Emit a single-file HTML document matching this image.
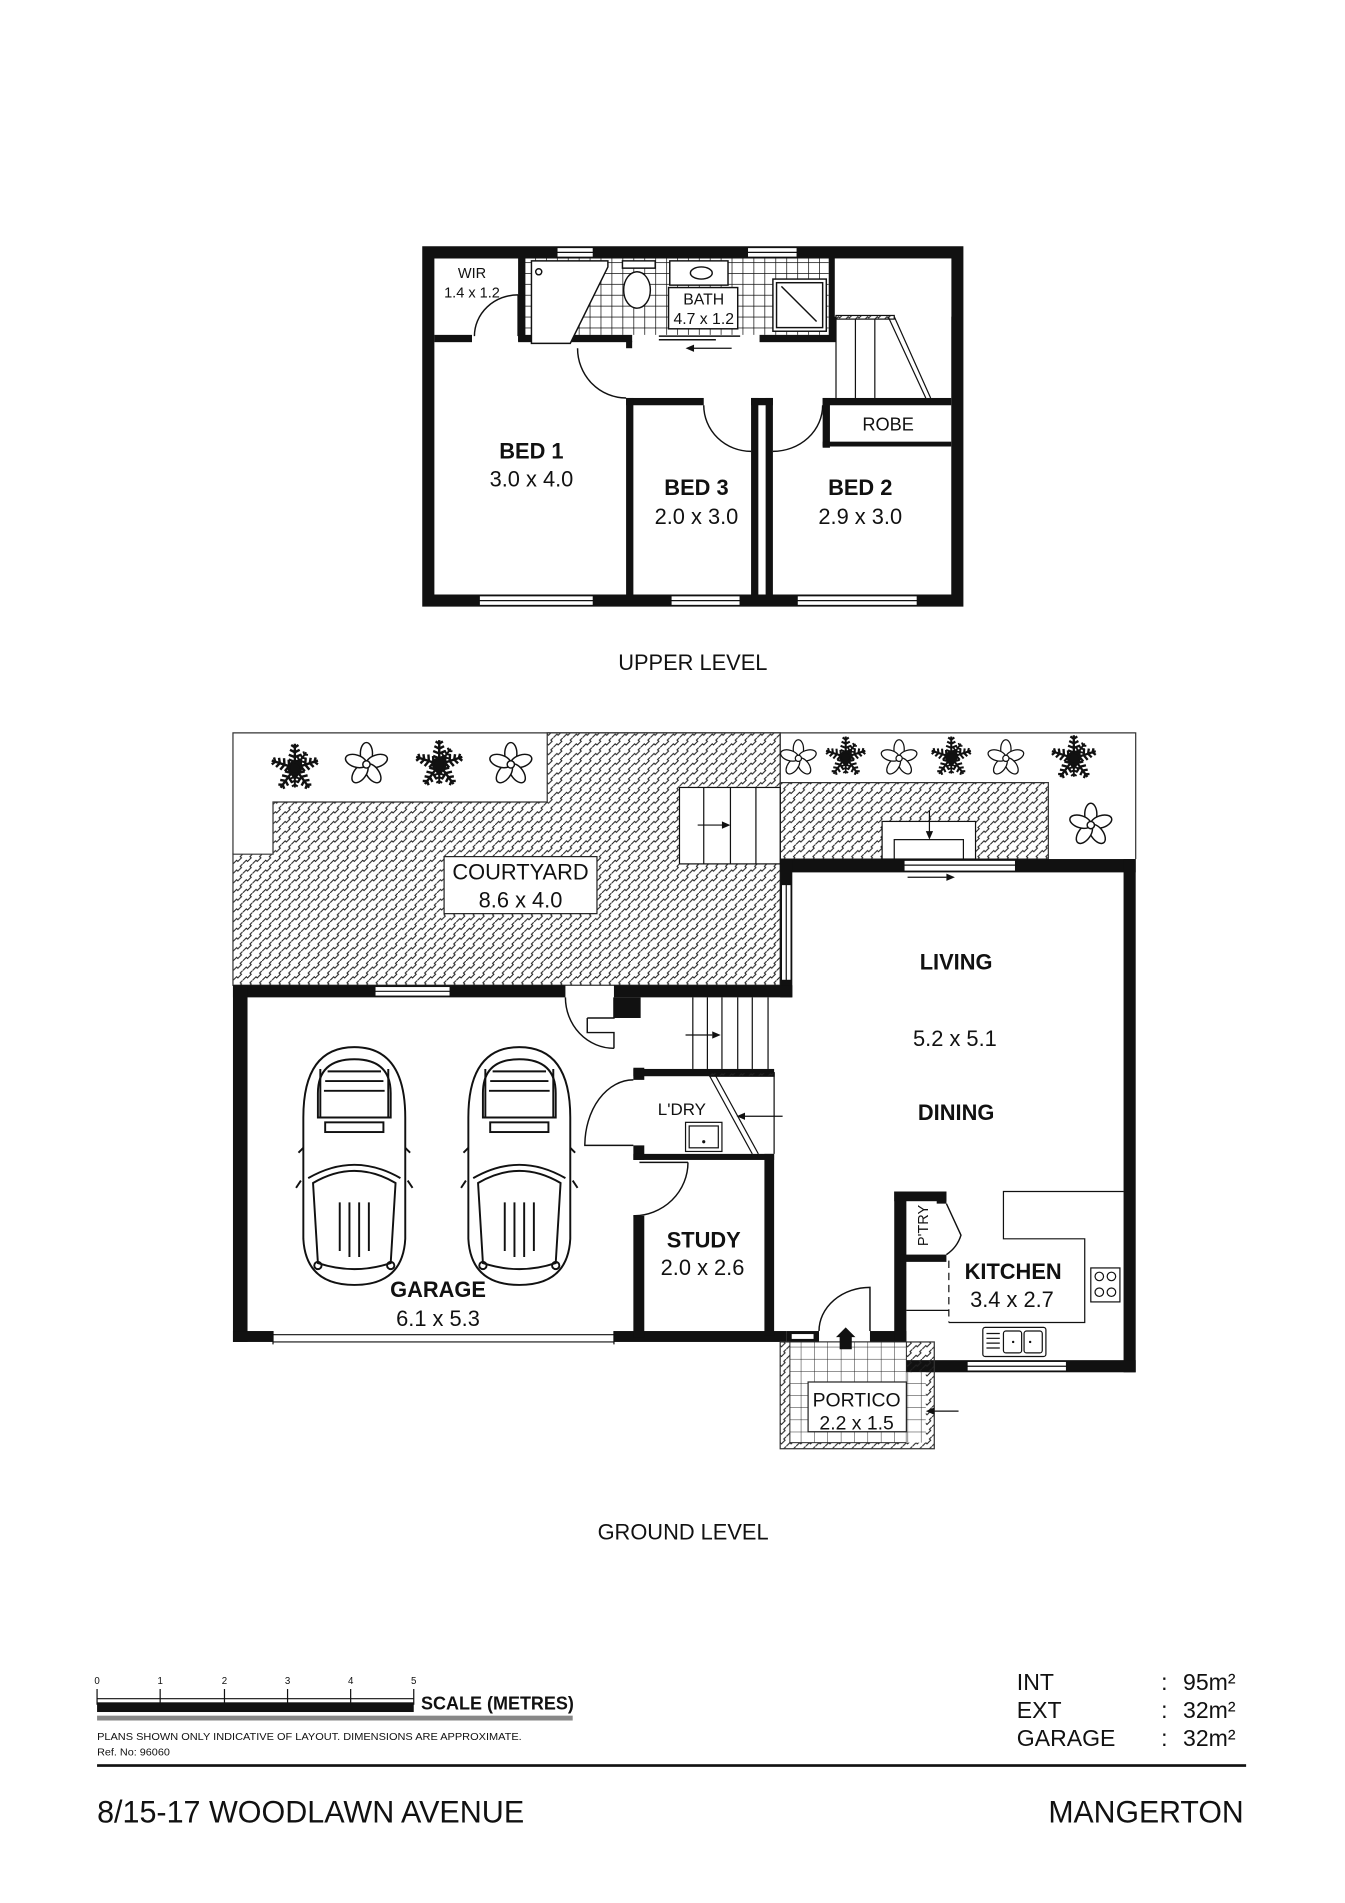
<!DOCTYPE html>
<html><head><meta charset="utf-8"><style>
html,body{margin:0;padding:0;background:#fff;}
svg{display:block;}
text{font-family:"Liberation Sans",sans-serif;fill:#111;}
</style></head><body>
<svg width="1345" height="1903" viewBox="0 0 1108.5 1568.4" preserveAspectRatio="none" xmlns="http://www.w3.org/2000/svg">
<defs>
<pattern id="hatch" width="8" height="8" patternUnits="userSpaceOnUse">
<path d="M0,8 L3,5 L4,6 L7,3 L6,2 L8,0" fill="none" stroke="#222" stroke-width="0.9"/>
</pattern>
<pattern id="tile" width="9" height="9" patternUnits="userSpaceOnUse">
<path d="M0,0 H9 M0,0 V9" stroke="#111" stroke-width="1.2"/>
</pattern>
<pattern id="btile" width="11" height="10" patternUnits="userSpaceOnUse">
<path d="M0,0 H11 M0,0 V10" stroke="#222" stroke-width="0.8"/>
</pattern>
<g id="flower">
<g fill="#fff" stroke="#111" stroke-width="1.2">
<ellipse cx="0" cy="-9" rx="5" ry="9"/>
<ellipse cx="0" cy="-9" rx="5" ry="9" transform="rotate(72)"/>
<ellipse cx="0" cy="-9" rx="5" ry="9" transform="rotate(144)"/>
<ellipse cx="0" cy="-9" rx="5" ry="9" transform="rotate(216)"/>
<ellipse cx="0" cy="-9" rx="5" ry="9" transform="rotate(288)"/>
</g>
<circle r="3" fill="#fff" stroke="#111" stroke-width="1.2"/>
</g>
<g id="fern" stroke="#111" stroke-width="2">
<g id="frond"><path d="M0,0 L0,-20 M0,-5 l-5,-2 M0,-5 l5,-2 M0,-9 l-5,-2 M0,-9 l5,-2 M0,-13 l-4,-2 M0,-13 l4,-2 M0,-17 l-3,-2 M0,-17 l3,-2"/></g>
<use href="#frond" transform="rotate(72)"/>
<use href="#frond" transform="rotate(144)"/>
<use href="#frond" transform="rotate(216)"/>
<use href="#frond" transform="rotate(288)"/>
<use href="#frond" transform="rotate(36) scale(0.8)"/>
<use href="#frond" transform="rotate(180) scale(0.8)"/>
<circle r="5" fill="#111"/>
</g>
<g id="car" fill="none" stroke="#111" stroke-width="1.6">
<path d="M-42,-40 Q-42,-98 0,-98 Q42,-98 42,-40 L42,60 Q40,98 0,98 Q-40,98 -42,60 Z"/>
<path d="M-30,-60 Q-30,-88 0,-88 Q30,-88 30,-60 L30,-40 L-30,-40 Z"/>
<path d="M-22,-78 H22 M-24,-70 H24 M-25,-62 H25"/>
<path d="M-28,-80 V-40 M28,-80 V-40"/>
<rect x="-24" y="-36" width="48" height="8"/>
<path d="M-38,10 Q0,-12 38,10"/>
<path d="M-34,14 Q0,-6 34,14 L30,80 Q0,90 -30,80 Z"/>
<path d="M-12,30 V70 M12,30 V70 M-4,30 V75 M4,30 V75"/>
<path d="M-42,-15 l-4,4 M42,-15 l4,4 M-44,12 l-4,6 M44,12 l4,6"/>
<circle cx="-30" cy="82" r="3"/><circle cx="30" cy="82" r="3"/>
</g>
</defs>

<!-- ================= UPPER LEVEL ================= -->
<g>
<rect x="432" y="213" width="251" height="63" fill="url(#tile)"/>
<path fill="#111" fill-rule="evenodd" d="M348,203 H794 V500 H348 Z M358,213 V490 H784 V213 Z"/>
<g fill="#fff" stroke="#111" stroke-width="1">
<rect x="459" y="204" width="30" height="8"/><rect x="616" y="204" width="41" height="8"/>
<rect x="395" y="491" width="94" height="8"/><rect x="553" y="491" width="57" height="8"/><rect x="657" y="491" width="99" height="8"/>
</g>
<g stroke="#111" stroke-width="1"><line x1="459" y1="208" x2="489" y2="208"/><line x1="616" y1="208" x2="657" y2="208"/><line x1="395" y1="495" x2="489" y2="495"/><line x1="553" y1="495" x2="610" y2="495"/><line x1="657" y1="495" x2="756" y2="495"/></g>
<g fill="#111">
<rect x="427" y="213" width="6" height="68"/>
<rect x="358" y="276" width="31" height="6"/>
<rect x="427" y="276" width="94" height="6"/>
<rect x="516" y="281" width="5" height="6"/>
<rect x="626" y="276" width="63" height="6"/>
<rect x="683" y="213" width="6" height="68"/>
<rect x="516" y="328" width="64" height="6"/>
<rect x="516" y="328" width="6" height="165"/>
<rect x="619" y="328" width="18" height="6"/>
<rect x="619" y="328" width="6" height="165"/>
<rect x="631" y="328" width="6" height="165"/>
<rect x="678" y="328" width="106" height="6"/>
<rect x="678" y="328" width="6" height="41"/>
<rect x="678" y="364" width="106" height="4"/>
</g>
<rect x="688" y="213" width="96" height="48" fill="#fff"/>
<g stroke="#111" stroke-width="1.2"><line x1="543" y1="277" x2="610" y2="277"/><line x1="543" y1="280" x2="590" y2="280"/></g>
<path d="M603,287 H570" stroke="#111" stroke-width="1"/><path d="M565,287 l7,-3 v6 z" fill="#111"/>
<g stroke="#111" stroke-width="1" fill="none">
<rect x="689" y="260" width="48" height="3" fill="url(#hatch)"/>
<line x1="689" y1="261" x2="689" y2="328"/><line x1="705" y1="263" x2="705" y2="328"/><line x1="721" y1="263" x2="721" y2="328"/>
<line x1="732" y1="261" x2="763" y2="328"/><line x1="737" y1="261" x2="767" y2="328"/>
</g>
<g fill="none" stroke="#111" stroke-width="1.2">
<path d="M427,243 A36,34 0 0 0 391,277"/><line x1="427" y1="243" x2="427" y2="277"/>
<path d="M476,287 A40,41 0 0 0 516,328"/>
<path d="M580,334 A39,38 0 0 0 619,372"/>
<path d="M678,334 A41,38 0 0 1 637,372"/>
</g>
<g fill="#fff" stroke="#111" stroke-width="1.2">
<path d="M438,215 H501 V220 L470,283 H438 Z"/>
<circle cx="444" cy="224" r="2.5"/>
<rect x="513" y="215" width="27" height="6"/>
<ellipse cx="525" cy="239" rx="11" ry="15"/>
<rect x="552" y="215" width="48" height="20"/>
<ellipse cx="578" cy="225" rx="9" ry="5"/>
<rect x="637" y="230" width="44" height="43"/>
<rect x="640" y="233" width="38" height="37"/>
<line x1="644" y1="236" x2="673" y2="265"/>
<rect x="551" y="237" width="57" height="34"/>
</g>
<text x="580" y="251" font-size="13" text-anchor="middle">BATH</text>
<text x="580" y="267" font-size="13" text-anchor="middle">4.7 x 1.2</text>
<text x="389" y="229" font-size="12" text-anchor="middle">WIR</text>
<text x="389" y="245" font-size="12" text-anchor="middle">1.4 x 1.2</text>
<text x="438" y="378" font-size="18" font-weight="bold" text-anchor="middle">BED 1</text>
<text x="438" y="401" font-size="18" text-anchor="middle">3.0 x 4.0</text>
<text x="574" y="408" font-size="18" font-weight="bold" text-anchor="middle">BED 3</text>
<text x="574" y="432" font-size="18" text-anchor="middle">2.0 x 3.0</text>
<text x="709" y="408" font-size="18" font-weight="bold" text-anchor="middle">BED 2</text>
<text x="709" y="432" font-size="18" text-anchor="middle">2.9 x 3.0</text>
<text x="732" y="355" font-size="15" text-anchor="middle">ROBE</text>
</g>
<text x="571" y="552" font-size="18" text-anchor="middle">UPPER LEVEL</text>

<!-- ================= GROUND LEVEL ================= -->
<g>
<path d="M192,704 V604 H936 V708" fill="none" stroke="#333" stroke-width="1"/>
<path d="M451,604 H643 V812 H192 V704 H225 V661 H451 Z" fill="url(#hatch)" stroke="#333" stroke-width="1"/>
<rect x="643" y="645" width="221" height="63" fill="url(#hatch)" stroke="#333" stroke-width="1"/>
<line x1="643" y1="604" x2="643" y2="708" stroke="#333" stroke-width="1"/>
<use href="#fern" transform="translate(243,633)"/>
<use href="#flower" transform="translate(302,630)"/>
<use href="#fern" transform="translate(362,630)"/>
<use href="#flower" transform="translate(421,630)"/>
<use href="#flower" transform="translate(658,625) scale(0.85)"/>
<use href="#fern" transform="translate(697,624) scale(0.85)"/>
<use href="#flower" transform="translate(741,625) scale(0.85)"/>
<use href="#fern" transform="translate(784,624) scale(0.85)"/>
<use href="#flower" transform="translate(829,625) scale(0.85)"/>
<use href="#fern" transform="translate(885,625) scale(0.95)"/>
<use href="#flower" transform="translate(899,680)"/>
<g fill="#fff" stroke="#111" stroke-width="1">
<rect x="560" y="649" width="83" height="63"/>
<line x1="580" y1="649" x2="580" y2="712"/><line x1="602" y1="649" x2="602" y2="712"/><line x1="623" y1="649" x2="623" y2="712"/>
<rect x="727" y="677" width="77" height="31"/><rect x="737" y="692" width="57" height="16"/>
</g>
<path d="M575,680 H596" stroke="#111"/><path d="M602,680 l-7,-3 v6 z" fill="#111"/>
<path d="M766,668 V686" stroke="#111"/><path d="M766,692 l-3,-7 h6 z" fill="#111"/>
<rect x="366" y="706" width="126" height="47" fill="#fff" stroke="#222" stroke-width="1"/>
<text x="429" y="725" font-size="18" text-anchor="middle">COURTYARD</text>
<text x="429" y="748" font-size="18" text-anchor="middle">8.6 x 4.0</text>

<g fill="#111">
<rect x="643" y="708" width="293" height="11"/>
<rect x="926" y="708" width="10" height="423"/>
<rect x="643" y="708" width="10" height="114"/>
<rect x="192" y="812" width="274" height="10"/>
<rect x="506" y="812" width="147" height="10"/>
<rect x="506" y="822" width="22" height="17"/>
<rect x="192" y="812" width="12" height="294"/>
<rect x="192" y="1097" width="33" height="9"/>
<rect x="506" y="1097" width="142" height="9"/>
<rect x="522" y="880" width="9" height="10"/>
<rect x="522" y="881" width="116" height="6"/>
<rect x="522" y="944" width="9" height="12"/>
<rect x="522" y="951" width="116" height="5"/>
<rect x="522" y="1002" width="9" height="100"/>
<rect x="630" y="951" width="8" height="150"/>
<rect x="717" y="1097" width="30" height="9"/>
<rect x="648" y="1097" width="27" height="9"/>
<rect x="737" y="982" width="10" height="149"/>
<rect x="737" y="982" width="43" height="8"/>
<rect x="772" y="982" width="8" height="10"/>
<rect x="742" y="1034" width="38" height="6"/>
<rect x="737" y="1121" width="199" height="10"/>
</g>
<g fill="#fff" stroke="#111" stroke-width="1">
<rect x="745" y="709" width="92" height="9"/>
<rect x="644" y="729" width="8" height="79"/>
<rect x="309" y="813" width="62" height="8"/>
<rect x="797" y="1122" width="82" height="8"/>
<rect x="652" y="1099" width="19" height="5"/>
</g>
<g stroke="#111" stroke-width="1">
<line x1="745" y1="713" x2="837" y2="713"/><line x1="648" y1="729" x2="648" y2="808"/>
<line x1="309" y1="817" x2="371" y2="817"/><line x1="797" y1="1126" x2="879" y2="1126"/>
<line x1="225" y1="1100" x2="506" y2="1100"/><line x1="225" y1="1106" x2="506" y2="1106"/>
<line x1="225" y1="1097" x2="225" y2="1108"/><line x1="506" y1="1097" x2="506" y2="1108"/>
</g>
<path d="M748,723 H780" stroke="#111"/><path d="M787,723 l-7,-3 v6 z" fill="#111"/>
<g fill="none" stroke="#111" stroke-width="1.2">
<path d="M466,822 A40,42 0 0 0 506,864"/>
<path d="M484,839 H506 V822 M484,839 V851 H506 V864"/>
<path d="M522,890 A40,54 0 0 0 482,944 H522"/>
<path d="M567,958 A45,44 0 0 1 522,1002"/><line x1="527" y1="958" x2="567" y2="958"/>
<path d="M780,992 L792,1018 A30,30 0 0 1 780,1034"/>
<path d="M675,1097 A42,36 0 0 1 717,1061 V1097"/>
</g>
<g stroke="#111" stroke-width="1" fill="none">
<line x1="571" y1="822" x2="571" y2="881"/><line x1="583" y1="822" x2="583" y2="881"/><line x1="595" y1="822" x2="595" y2="881"/><line x1="608" y1="822" x2="608" y2="881"/><line x1="620" y1="822" x2="620" y2="881"/><line x1="633" y1="822" x2="633" y2="881"/>
<rect x="585" y="884" width="53" height="3" fill="url(#hatch)"/>
<line x1="585" y1="887" x2="620" y2="951"/><line x1="590" y1="887" x2="625" y2="951"/>
<line x1="638" y1="884" x2="638" y2="951"/>
<rect x="565" y="925" width="30" height="24"/><rect x="568" y="928" width="24" height="18"/>
</g>
<circle cx="580" cy="941" r="1.3" fill="#111"/>
<path d="M565,853 H587" stroke="#111"/><path d="M594,853 l-7,-3 v6 z" fill="#111"/>
<path d="M645,920 H614" stroke="#111"/><path d="M607,920 l7,-3 v6 z" fill="#111"/>
<g fill="none" stroke="#111" stroke-width="1">
<path d="M926,982 H827 V1021 H894 V1090 H782"/>
<path d="M782,1039 V1090" stroke-dasharray="6,4"/>
<line x1="747" y1="1080" x2="782" y2="1080"/>
<rect x="899" y="1045" width="24" height="28"/>
<circle cx="906" cy="1052" r="3.5"/><circle cx="916" cy="1052" r="3.5"/><circle cx="906" cy="1065" r="3.5"/><circle cx="916" cy="1065" r="3.5"/>
<rect x="810" y="1094" width="52" height="24" rx="2"/>
<rect x="827" y="1097" width="15" height="18" rx="2"/><rect x="844" y="1097" width="15" height="18" rx="2"/>
<path d="M813,1099 H824 M813,1103 H824 M813,1107 H824 M813,1111 H824"/>
</g>
<circle cx="835" cy="1106" r="1" fill="#111"/><circle cx="849" cy="1106" r="1" fill="#111"/>
<rect x="643" y="1106" width="127" height="88" fill="url(#hatch)" stroke="#333" stroke-width="1"/>
<rect x="651" y="1106" width="96" height="83" fill="#fff"/>
<rect x="651" y="1106" width="96" height="83" fill="url(#btile)" stroke="#222" stroke-width="0.8"/>
<rect x="747" y="1131" width="16" height="58" fill="#fff"/>
<rect x="747" y="1131" width="16" height="58" fill="url(#btile)"/>
<rect x="666" y="1139" width="81" height="41" fill="#fff" stroke="#222" stroke-width="1"/>
<text x="706" y="1159" font-size="16" text-anchor="middle">PORTICO</text>
<text x="706" y="1178" font-size="16" text-anchor="middle">2.2 x 1.5</text>
<path d="M692,1112 V1102 H689 L697,1094 L705,1102 H702 V1112 Z" fill="#111"/>
<path d="M790,1163 H770" stroke="#111"/><path d="M763,1163 l7,-3 v6 z" fill="#111"/>
<use href="#car" transform="translate(292,961)"/>
<use href="#car" transform="translate(428,961)"/>
<text x="788" y="799" font-size="18" font-weight="bold" text-anchor="middle">LIVING</text>
<text x="787" y="862" font-size="18" text-anchor="middle">5.2 x 5.1</text>
<text x="788" y="923" font-size="18" font-weight="bold" text-anchor="middle">DINING</text>
<text x="361" y="1069" font-size="18" font-weight="bold" text-anchor="middle">GARAGE</text>
<text x="361" y="1093" font-size="18" text-anchor="middle">6.1 x 5.3</text>
<text x="580" y="1028" font-size="18" font-weight="bold" text-anchor="middle">STUDY</text>
<text x="579" y="1051" font-size="18" text-anchor="middle">2.0 x 2.6</text>
<text x="562" y="919" font-size="14" text-anchor="middle">L'DRY</text>
<text x="835" y="1054" font-size="18" font-weight="bold" text-anchor="middle">KITCHEN</text>
<text x="834" y="1077" font-size="18" text-anchor="middle">3.4 x 2.7</text>
<text x="0" y="0" font-size="12" text-anchor="middle" transform="translate(765,1010) rotate(-90)">P'TRY</text>
</g>
<text x="563" y="1269" font-size="18" text-anchor="middle">GROUND LEVEL</text>

<g font-size="8">
<text x="80" y="1388" text-anchor="middle">0</text><text x="132" y="1388" text-anchor="middle">1</text><text x="185" y="1388" text-anchor="middle">2</text><text x="237" y="1388" text-anchor="middle">3</text><text x="289" y="1388" text-anchor="middle">4</text><text x="341" y="1388" text-anchor="middle">5</text>
</g>
<g stroke="#111" stroke-width="1"><path d="M80,1392 V1405 M132,1392 V1405 M185,1392 V1405 M237,1392 V1405 M289,1392 V1405 M341,1392 V1405 M80,1400 H341"/></g>
<rect x="80" y="1403" width="261" height="8" fill="#111"/>
<rect x="80" y="1414" width="392" height="4" fill="#888"/>
<text x="347" y="1409" font-size="15" font-weight="bold" textLength="126" lengthAdjust="spacingAndGlyphs">SCALE (METRES)</text>
<text x="80" y="1434" font-size="8.5" textLength="350" lengthAdjust="spacingAndGlyphs">PLANS SHOWN ONLY INDICATIVE OF LAYOUT.  DIMENSIONS ARE APPROXIMATE.</text>
<text x="80" y="1447" font-size="8.5" textLength="60" lengthAdjust="spacingAndGlyphs">Ref. No: 96060</text>
<rect x="80" y="1454" width="947" height="2.2" fill="#111"/>
<text x="80" y="1502" font-size="26" textLength="352" lengthAdjust="spacingAndGlyphs">8/15-17 WOODLAWN AVENUE</text>
<text x="864" y="1502" font-size="26" textLength="161" lengthAdjust="spacingAndGlyphs">MANGERTON</text>
<g font-size="19">
<text x="838" y="1393">INT</text><text x="838" y="1416">EXT</text><text x="838" y="1439">GARAGE</text>
<text x="957" y="1393">:</text><text x="957" y="1416">:</text><text x="957" y="1439">:</text>
<text x="975" y="1393">95m²</text><text x="975" y="1416">32m²</text><text x="975" y="1439">32m²</text>
</g>
</svg>
</body></html>
